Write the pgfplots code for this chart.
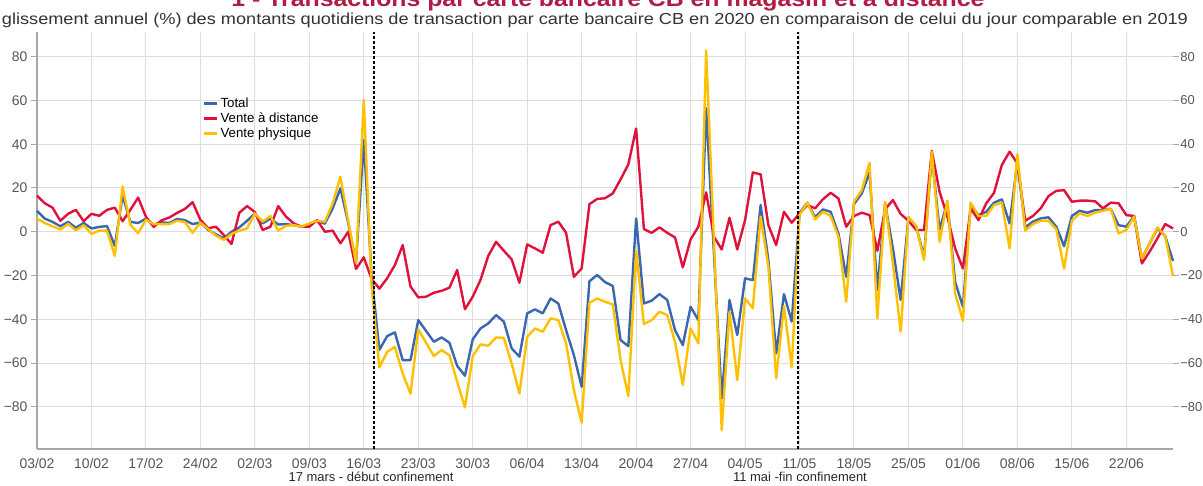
\documentclass[border=0pt]{standalone}
\usepackage{fontspec}
\setmainfont{Liberation Sans}
\usepackage{graphicx}
\usepackage{pgfplots}
\pgfplotsset{compat=1.18}
\usepackage{pgfplotstable}
\definecolor{cTotal}{RGB}{58,103,176}
\definecolor{cDist}{RGB}{224,18,60}
\definecolor{cPhys}{RGB}{255,192,0}
\definecolor{cTitle}{RGB}{176,28,68}
\definecolor{cTick}{RGB}{85,85,85}
\definecolor{cGrid}{RGB}{222,222,222}
\definecolor{cAxis}{RGB}{168,168,168}

\pgfplotstableread{
d tot dist phys
0 9.5 16.5 6
1 6 13 4
2 4.5 11 2.5
3 2.5 5 1
4 4.5 8.2 3.6
5 1.8 10 0.6
6 4 4.8 3
7 1.5 8.2 -1
8 2.2 7.3 0.5
9 2.6 10 0.5
10 -6.5 11 -11
11 16.5 4.8 20.7
12 4.5 10 3.2
13 4 15.6 -0.7
14 6 6.8 5.5
15 3.3 2.2 3.4
16 4.3 5.2 3.5
17 4 6.5 3.5
18 5.8 8.6 5
19 5.3 10.4 4.5
20 3.5 13.5 -0.5
21 4.2 5.4 4.2
22 0.8 1.6 1.2
23 -1.2 2.3 -1.8
24 -3 -1.5 -3.7
25 0 -5.6 -1
26 2 8.7 0.5
27 5 11.7 1.5
28 8.4 9 8.4
29 3.8 0.8 4.6
30 6 2.3 7.2
31 3.3 11.7 0.5
32 3.5 6.9 2.7
33 3 3.8 3
34 2.3 2.3 2.3
35 3.6 2.3 3.8
36 5 5.3 5
37 3.7 0 4.6
38 10.7 0.5 13
39 19.8 -5.3 25.1
40 4 0 5
41 -14.2 -17 -14.2
42 41.9 -11.7 60.2
43 -20 -21.6 -25
44 -54 -26 -62
45 -47.7 -21.3 -54.9
46 -46 -15.2 -52.6
47 -58.7 -6.1 -64.8
48 -58.7 -25 -74
49 -40.4 -30 -44.6
50 -45.3 -29.7 -50.7
51 -50.3 -27.9 -56.8
52 -48.3 -27 -54.1
53 -50.7 -25.6 -56.4
54 -61.3 -17.5 -68.6
55 -65.8 -35.4 -80.3
56 -49.2 -29.7 -56.8
57 -44.2 -22 -51.5
58 -41.9 -11 -52.1
59 -38.1 -4.6 -48.3
60 -41.1 -8.7 -48.5
61 -53.3 -12.6 -60.2
62 -57.1 -23.3 -73.9
63 -37.3 -5.8 -48
64 -35.5 -7.6 -44.2
65 -37.3 -9.6 -45.7
66 -30.5 3 -39.6
67 -32.8 4.6 -40.4
68 -45 -0.5 -51
69 -56.4 -20.6 -72.4
70 -70.9 -16.8 -87.3
71 -22.6 12.6 -32.5
72 -19.8 15 -30.5
73 -23 15.3 -32
74 -24.8 17.5 -33.2
75 -49.5 23.9 -58.7
76 -52.3 30.8 -75.1
77 6.1 47.2 -8.7
78 -32.8 1.2 -42.2
79 -31.5 -0.5 -40.4
80 -28.5 2 -36.6
81 -31.2 -0.5 -38.1
82 -45 -2.6 -50.3
83 -51.8 -16.3 -70.1
84 -34.3 -3.5 -44.2
85 -40.4 2.3 -51
86 56.4 18 83
87 -10 -2.3 -4
88 -76.2 -8.1 -90.7
89 -31.2 6.4 -36.6
90 -47.2 -8.1 -67.8
91 -21.3 5.3 -30.5
92 -22.1 27.1 -35
93 12.2 26.2 6.9
94 -13 3 -16
95 -55.6 -6.1 -67
96 -28.5 9.1 -34
97 -41.1 4.1 -62
98 8.4 8.4 7.6
99 13.3 12.2 13.3
100 6.6 10.7 5.6
101 10.2 14.8 9.1
102 9.1 17.8 7.2
103 -0.8 15.2 -2.3
104 -20.6 2.3 -32
105 12.6 7.2 13.7
106 17.5 8.7 19
107 27 7.6 31.5
108 -26.7 -8.7 -39.6
109 13 10.2 13.7
110 -7.6 14.5 -14.5
111 -31.2 8.1 -45.7
112 6.6 5 6.6
113 2.3 0.8 2.6
114 -11.4 0.8 -13
115 35 37 36.6
116 0.8 18.3 -4.6
117 13.7 6.9 14.2
118 -22.9 -7.6 -28.2
119 -34.3 -16.8 -40.7
120 12.2 10.7 13.3
121 7.6 5.3 7.2
122 9.1 13 7.2
123 13.3 17.8 12.2
124 14.8 30.5 13.3
125 3.8 36.6 -7.6
126 32 31.2 35.5
127 2 5 0.5
128 4.6 7.2 3.5
129 6.1 10.7 5
130 6.6 16.3 5
131 2.3 18.7 1.1
132 -6.6 19 -16.8
133 7.2 13.7 5
134 9.6 14.2 8.4
135 8.7 14.2 7.2
136 9.9 13.9 8.7
137 9.9 10.7 9.6
138 10.5 13.3 10.5
139 3 13 -0.8
140 2.3 7.6 0.8
141 7.2 7.2 6.9
142 -12.2 -14.5 -12.2
143 -5.3 -9.1 -5.3
144 1.5 -3 2
145 -2 3.5 -2
146 -13.4 1.5 -20.3
}\data

\begin{document}
\begin{tikzpicture}[x=1bp,y=1bp]
\useasboundingbox (0,0) rectangle (1203,486);
\pgfplotsset{
  common/.style={
    at={(37bp,37bp)}, anchor=south west,
    scale only axis, width=1136bp, height=417bp,
    xmin=0, xmax=146, ymin=-99.3, ymax=91.3,
    ytick={-80,-60,-40,-20,0,20,40,60,80},
    yticklabels={−80,−60,−40,−20,0,20,40,60,80},
    tick align=outside,
    major tick length=6bp,
    ticklabel style={font=\fontsize{14}{14}\selectfont, text=cTick},
    ytick style={cAxis, line width=1bp},
  }
}
\begin{axis}[common,
  axis x line*=bottom, axis y line*=left,
  axis line style={cAxis, line width=1.3bp},
  xtick={0,7,...,140},
  xticklabels={03/02,10/02,17/02,24/02,02/03,09/03,16/03,23/03,30/03,06/04,13/04,20/04,27/04,04/05,11/05,18/05,25/05,01/06,08/06,15/06,22/06},
  xtick style={draw=none},
  grid=major,
  major grid style={cGrid, line width=1bp},
  clip=false,
  legend cell align=left,
  legend style={at={(axis cs:21.3,62)}, anchor=north west, draw=none, fill=none,
    font=\fontsize{13.3}{14}\selectfont, row sep=0.8bp, inner sep=0bp,
    nodes={inner sep=1.6bp}},
  legend image code/.code={\draw[#1, line width=3bp] (0bp,0bp) -- (13bp,0bp);},
]
\addplot[cTotal, line width=2.4bp, line join=round] table[x=d, y=tot] {\data};
\addlegendentry{Total}
\addplot[cDist, line width=2.4bp, line join=round] table[x=d, y=dist] {\data};
\addlegendentry{Vente à distance}
\addplot[cPhys, line width=2.4bp, line join=round] table[x=d, y=phys] {\data};
\addlegendentry{Vente physique}
\addplot[black, line width=1.4bp, dash pattern=on 2.5bp off 2.5bp, forget plot] coordinates {(43.3,-99.3) (43.3,91.3)};
\addplot[black, line width=1.4bp, dash pattern=on 2.5bp off 2.5bp, forget plot] coordinates {(97.8,-99.3) (97.8,91.3)};
\end{axis}
\begin{axis}[common,
  axis x line=none, axis y line*=right,
  y axis line style={draw=none},
  yticklabel style={font=\fontsize{13}{13}\selectfont, inner sep=1.2bp},
]
\addplot[draw=none] coordinates {(0,0)};
\end{axis}
\node[anchor=base, text=cTitle, font=\bfseries\fontsize{22}{22}\selectfont] at (608,479)
  {\resizebox{753bp}{\height}{1 - Transactions par carte bancaire CB en magasin et à distance}};
\node[anchor=base, text=black!80, font=\fontsize{16}{16}\selectfont] at (595,461)
  {\resizebox{1186bp}{\height}{glissement annuel (\%) des montants quotidiens de transaction par carte bancaire CB en 2020 en comparaison de celui du jour comparable en 2019}};
\node[anchor=base, text=black!85, font=\fontsize{13}{13}\selectfont] at (371,4) {17 mars - début confinement};
\node[anchor=base, text=black!85, font=\fontsize{13}{13}\selectfont] at (800,4) {11 mai -fin confinement};
\end{tikzpicture}
\end{document}
